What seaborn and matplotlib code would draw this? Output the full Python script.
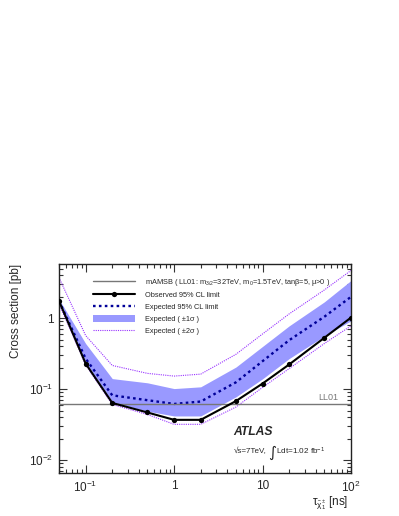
import numpy as np
import pandas as pd
import matplotlib
matplotlib.use("Agg")
import matplotlib.pyplot as plt
import seaborn as sns
from matplotlib.lines import Line2D
from matplotlib.patches import Patch

# ---------------- data ----------------
tau = [0.05, 0.1, 0.2, 0.5, 1, 2, 5, 10, 20, 50, 100]
observed = [1.75, 0.23, 0.064, 0.047, 0.037, 0.037, 0.068, 0.12, 0.223, 0.53, 1.02]
expected = [1.75, 0.27, 0.082, 0.070, 0.062, 0.067, 0.125, 0.248, 0.49, 1.05, 2.0]
band1_lo = [1.65, 0.24, 0.066, 0.049, 0.042, 0.042, 0.078, 0.14, 0.27, 0.56, 0.92]
band1_hi = [1.85, 0.44, 0.141, 0.123, 0.102, 0.108, 0.205, 0.40, 0.78, 1.7, 3.4]
band2_lo = [1.6, 0.22, 0.061, 0.044, 0.032, 0.032, 0.056, 0.106, 0.195, 0.44, 0.78]
band2_hi = [3.74, 0.57, 0.216, 0.167, 0.153, 0.163, 0.31, 0.6, 1.15, 2.5, 4.7]
ll01_xsec = 0.062

x_ticks = [0.1, 1, 10, 100]
x_ticklabels = [r'$10^{-1}$', '1', '10', r'$10^{2}$']
y_ticks = [0.01, 0.1, 1]
y_ticklabels = [r'$10^{-2}$', r'$10^{-1}$', '1']

legend_labels = [
    r'mAMSB ( LL01: m$_{3/2}$=32TeV, m$_{0}$=1.5TeV, tan$\beta$=5, $\mu$>0 )',
    'Observed 95% CL limit',
    'Expected 95% CL limit',
    'Expected ( \u00b11\u03c3 )',
    'Expected ( \u00b12\u03c3 )',
]

df = pd.DataFrame({'tau': tau, 'observed': observed, 'expected': expected})

# ---------------- style ----------------
sns.set_style("ticks")
plt.rcParams['font.family'] = ['Liberation Sans', 'DejaVu Sans']
plt.rcParams['mathtext.fontset'] = 'custom'
plt.rcParams['mathtext.rm'] = 'Liberation Sans'
plt.rcParams['mathtext.it'] = 'Liberation Sans:italic'
plt.rcParams['mathtext.bf'] = 'Liberation Sans:bold'
plt.rcParams['mathtext.default'] = 'regular'

band_color = '#9999ff'
exp_color = '#000099'
sig2_color = '#9933ff'
exp_ls = (0, (1.1, 1.4))

fig = plt.figure(figsize=(3.99, 5.16), dpi=100)
ax = fig.add_axes([59/399, 1 - 473/516, 292/399, 209/516])

ax.fill_between(tau, band1_lo, band1_hi, color=band_color, linewidth=0, zorder=1)
ax.plot(tau, band2_hi, color=sig2_color, lw=0.8, ls=(0, (1, 1)), zorder=2)
ax.plot(tau, band2_lo, color=sig2_color, lw=0.8, ls=(0, (1, 1)), zorder=2)
sns.lineplot(data=df, x='tau', y='expected', ax=ax, color=exp_color, lw=1.7,
             linestyle=exp_ls, zorder=3)
ax.axhline(ll01_xsec, color='#777777', lw=1.0, zorder=4)
sns.lineplot(data=df, x='tau', y='observed', ax=ax, color='black', lw=1.5,
             marker='o', markersize=3.8, markeredgewidth=0, zorder=5)

ax.set_xscale('log')
ax.set_yscale('log')
ax.set_xlim(0.05, 100)
ax.set_ylim(0.0066, 5.8)

ax.set_xticks(x_ticks)
ax.set_xticklabels(x_ticklabels)
ax.set_yticks(y_ticks)
ax.set_yticklabels(y_ticklabels)
ax.tick_params(which='both', direction='in', top=True, right=True, width=0.8,
               color='#333333')
ax.tick_params(which='major', length=6)
ax.tick_params(which='minor', length=3)
ax.tick_params(axis='x', labelsize=8.5, pad=5)
ax.tick_params(axis='y', labelsize=8.5, pad=4)
for s in ax.spines.values():
    s.set_linewidth(1.0)
    s.set_color('#222222')

ax.set_xlabel(r'$\tau_{\tilde{\chi}^{\pm}_{1}}$ [ns]', fontsize=8.5, loc='right')
ax.xaxis.set_label_coords(0.99, -0.103)
ax.xaxis.label.set_va('top')
ax.set_ylabel('Cross section [pb]', fontsize=8.5, loc='top')
ax.yaxis.set_label_coords(-0.125, 1.0)

# LL01 label
ax.text(0.955, ll01_xsec * 1.08, 'LL01', transform=ax.get_yaxis_transform(),
        ha='right', va='bottom', fontsize=6.5, color='#777777')

# ATLAS labels
ax.text(0.597, 0.197, 'ATLAS', transform=ax.transAxes, fontsize=8.7,
        fontweight='bold', fontstyle='italic', ha='left', va='center')
ax.text(0.600, 0.103, '\u221as=7TeV,', transform=ax.transAxes, fontsize=5.8,
        ha='left', va='center')
ax.text(0.716, 0.100, '\u222b', transform=ax.transAxes, fontsize=11,
        ha='left', va='center', family=['DejaVu Sans'])
ax.text(0.742, 0.103, r'Ldt=1.02 fb$^{-1}$', transform=ax.transAxes, fontsize=5.9,
        ha='left', va='center')

# legend
handles = [
    Line2D([], [], color='#777777', lw=1.0),
    Line2D([], [], color='black', lw=1.5, marker='o', markersize=3.8, markeredgewidth=0),
    Line2D([], [], color=exp_color, lw=1.7, ls=exp_ls),
    Patch(facecolor=band_color, edgecolor='none'),
    Line2D([], [], color=sig2_color, lw=0.8, ls=(0, (1, 1))),
]
leg = ax.legend(handles, legend_labels, loc='upper left',
                bbox_to_anchor=(0.1175, 0.94), frameon=False, fontsize=5.3,
                handlelength=5.7, handleheight=1.0, handletextpad=1.3,
                labelspacing=0.55, borderpad=0, borderaxespad=0)

fig.savefig('out.png', dpi=100)
